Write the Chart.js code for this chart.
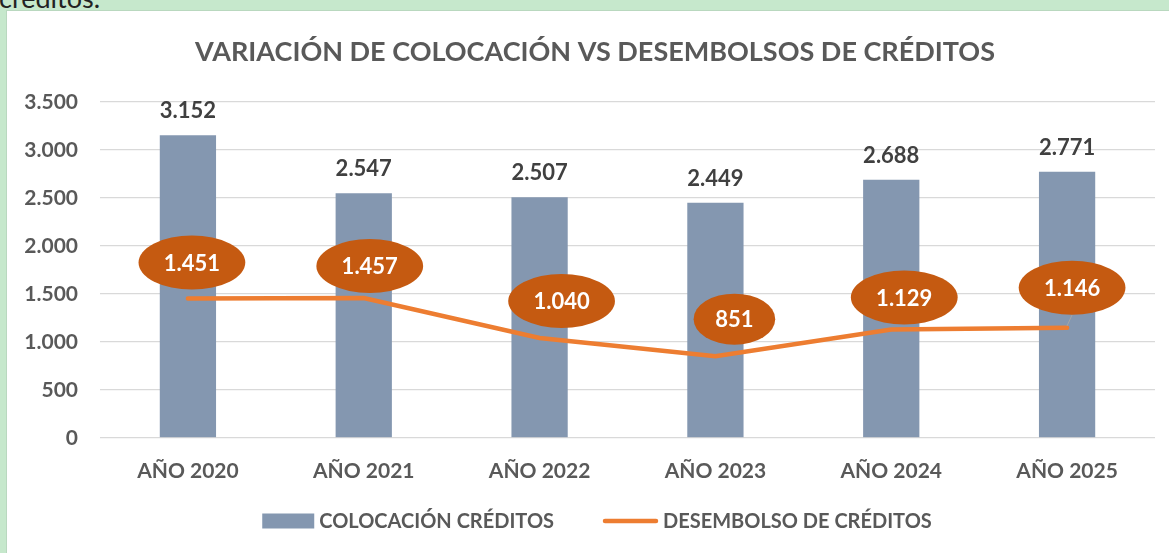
<!DOCTYPE html>
<html>
<head>
<meta charset="utf-8">
<script src="https://cdn.jsdelivr.net/npm/chart.js@4.4.1/dist/chart.umd.min.js"></script>
<style>
  html, body { margin: 0; padding: 0; }
  body { width: 1169px; height: 553px; background: #c6e8cc; position: relative; overflow: hidden; font-family: Lato, sans-serif; }
  #top { position: absolute; left: -1px; top: -19px; font: 27px Lato, sans-serif; color: #222; }
  #wrap { position: absolute; left: 7px; top: 11px; width: 1162px; height: 542px; background: #fff; box-shadow: 0 0 0 1px #b9d8bf; }
  canvas { display: block; }
</style>
</head>
<body>
<div id="top">créditos.</div>
<div id="wrap"><canvas id="c" width="1162" height="542"></canvas></div>
<script>
const categories = ['AÑO 2020', 'AÑO 2021', 'AÑO 2022', 'AÑO 2023', 'AÑO 2024', 'AÑO 2025'];
const colocacion = [3152, 2547, 2507, 2449, 2688, 2771];
const desembolso = [1451, 1457, 1040, 851, 1129, 1146];
const yTickValues = [0, 500, 1000, 1500, 2000, 2500, 3000, 3500];
const seriesNames = ['COLOCACIÓN CRÉDITOS', 'DESEMBOLSO DE CRÉDITOS'];
const titleText = 'VARIACIÓN DE COLOCACIÓN VS DESEMBOLSOS DE CRÉDITOS';

// label placement (style only)
const labelOffsets = [[4, -36], [6, -32], [22, -37], [19, -37], [13, -32], [5, -40]];
const labelLeader = [false, false, false, false, false, true];

const FONT = 'Lato, sans-serif';
const GREY = '#595959';
const BAR = '#8497B0';
const LINE = '#ED7D31';
const BUBBLE = '#C55A11';

function fmt(n) {
  return String(n).replace(/\B(?=(\d{3})+(?!\d))/g, '.');
}

const labelPlugin = {
  id: 'labels',
  afterLayout(chart) {
    // let the y tick labels use the space left of the axis box
    const y = chart.scales.y;
    y.width = y.right;
    y.left = 0;
  },
  afterDatasetsDraw(chart) {
    const ctx = chart.ctx;
    ctx.save();
    // bar value labels
    const barMeta = chart.getDatasetMeta(0);
    ctx.font = 'bold 22px ' + FONT;
    ctx.fillStyle = '#404040';
    ctx.textAlign = 'center';
    ctx.textBaseline = 'middle';
    barMeta.data.forEach((el, i) => {
      ctx.fillText(fmt(colocacion[i]), el.x, el.y - 24);
    });
    // line value bubbles
    const lineMeta = chart.getDatasetMeta(1);
    ctx.font = 'bold 22px ' + FONT;
    lineMeta.data.forEach((el, i) => {
      const txt = fmt(desembolso[i]);
      const tw = ctx.measureText(txt).width;
      const cx = el.x + labelOffsets[i][0];
      const cy = el.y + labelOffsets[i][1];
      const rx = tw * 0.7 + 14;
      const ry = txt.length < 4 ? 25.5 : 27;
      if (labelLeader[i]) {
        ctx.strokeStyle = '#a6a6a6';
        ctx.lineWidth = 1;
        ctx.beginPath();
        ctx.moveTo(el.x, el.y - 2);
        ctx.lineTo(cx, cy + ry);
        ctx.stroke();
      }
      ctx.fillStyle = BUBBLE;
      ctx.beginPath();
      ctx.ellipse(cx, cy, rx, ry, 0, 0, Math.PI * 2);
      ctx.fill();
      ctx.fillStyle = '#ffffff';
      ctx.fillText(txt, cx, cy + 1);
    });
    ctx.restore();
  },
  afterDraw(chart) {
    // legend drawn from the dataset styles
    const ctx = chart.ctx;
    const ds = chart.data.datasets;
    ctx.save();
    ctx.font = 'bold 20px ' + FONT;
    ctx.textBaseline = 'middle';
    ctx.textAlign = 'left';
    const boxW = 52, boxH = 15, lineW = 55, gapText = 5, gapItem = 49;
    const w1 = ctx.measureText(ds[0].label).width;
    const w2 = ctx.measureText(ds[1].label).width;
    const total = boxW + gapText + w1 + gapItem + lineW + gapText + w2;
    let x = chart.width / 2 + 9 - total / 2;
    const y = 510;
    ctx.fillStyle = ds[0].backgroundColor;
    ctx.fillRect(x, y - boxH / 2, boxW, boxH);
    x += boxW + gapText;
    ctx.fillStyle = GREY;
    ctx.fillText(ds[0].label, x, y + 1);
    x += w1 + gapItem;
    ctx.strokeStyle = ds[1].borderColor;
    ctx.lineWidth = ds[1].borderWidth;
    ctx.lineCap = 'round';
    ctx.beginPath();
    ctx.moveTo(x + 2, y);
    ctx.lineTo(x + lineW - 2, y);
    ctx.stroke();
    x += lineW + gapText;
    ctx.fillStyle = GREY;
    ctx.fillText(ds[1].label, x, y + 1);
    ctx.restore();
  }
};

new Chart(document.getElementById('c'), {
  data: {
    labels: categories,
    datasets: [
      {
        type: 'bar',
        label: seriesNames[0],
        data: colocacion,
        backgroundColor: BAR,
        categoryPercentage: 1,
        barPercentage: 0.32,
        order: 1
      },
      {
        type: 'line',
        label: seriesNames[1],
        data: desembolso,
        borderColor: LINE,
        borderWidth: 4.5,
        borderCapStyle: 'round',
        borderJoinStyle: 'miter',
        pointRadius: 0,
        tension: 0,
        order: 0
      }
    ]
  },
  options: {
    responsive: false,
    animation: false,
    layout: { padding: { left: 28, right: 14, top: 0, bottom: 48 } },
    plugins: {
      tooltip: { enabled: false },
      legend: { display: false },
      title: {
        display: true,
        text: titleText,
        color: GREY,
        font: { family: FONT, size: 27, weight: 'bold' },
        padding: { top: 25, bottom: 33.5 }
      }
    },
    scales: {
      x: {
        offset: true,
        grid: { display: false, drawTicks: false },
        border: { display: false },
        ticks: { color: GREY, padding: 21, font: { family: FONT, size: 21, weight: 'bold' }, maxRotation: 0 }
      },
      y: {
        min: 0,
        max: 3500,
        afterBuildTicks(scale) { scale.ticks = yTickValues.map(v => ({ value: v })); },
        afterFit(scale) { scale.width = 65; },
        grid: { color: '#d9d9d9', lineWidth: 1.3, drawTicks: false },
        border: { display: false },
        ticks: { color: GREY, padding: 22, font: { family: FONT, size: 21, weight: 'bold' }, callback: v => fmt(v) }
      }
    }
  },
  plugins: [labelPlugin]
});
</script>
</body>
</html>
